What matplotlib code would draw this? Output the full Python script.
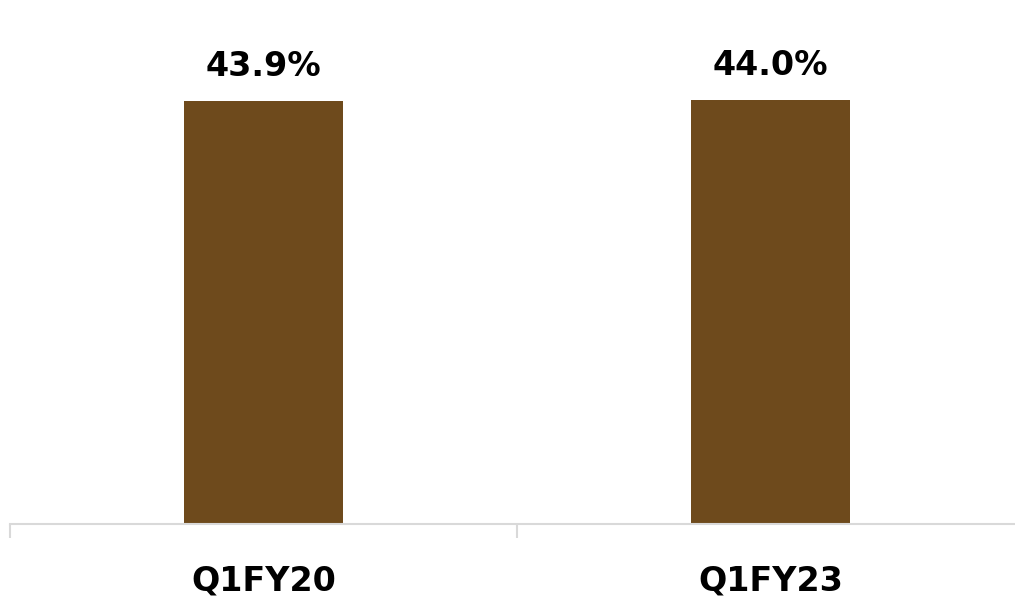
import matplotlib.pyplot as plt
import numpy as np

# Margen por trimestre
periodos = ['Q1FY20', 'Q1FY23']
margen = [43.9, 44.0]
etiquetas = ['43.9%', '44.0%']

color_barra = '#6E4A1C'
color_eje = '#D9D9D9'

fig = plt.figure(figsize=(10.15, 5.97), dpi=100)
ax = fig.add_axes([10 / 1015, 73 / 597, 1014 / 1015, 524 / 597])

x = np.arange(len(periodos))
barras = ax.bar(x, margen, width=0.314, color=color_barra, zorder=2)

ax.set_xlim(-0.5, len(periodos) - 0.5)
ax.set_ylim(0, 43.9 * 524 / 423)

# Valores encima de cada barra
for barra, txt in zip(barras, etiquetas):
    ax.annotate(txt, (barra.get_x() + barra.get_width() / 2, barra.get_height()),
                xytext=(0, 18), textcoords='offset points', ha='center', va='baseline',
                fontsize=24, fontweight='bold', color='black')

# Eje x: separadores entre categorías y etiquetas centradas
ax.set_xticks(np.arange(-0.5, len(periodos)), minor=False)
ax.set_xticklabels([])
ax.set_xticks(x, minor=True)
ax.set_xticklabels(periodos, minor=True, fontsize=24, fontweight='bold')
ax.tick_params(axis='x', which='major', length=10, width=1.5, color=color_eje)
ax.tick_params(axis='x', which='minor', length=0, pad=29)
ax.set_yticks([])

for lado in ['top', 'right', 'left']:
    ax.spines[lado].set_visible(False)
ax.spines['bottom'].set_color(color_eje)
ax.spines['bottom'].set_linewidth(1.5)

fig.savefig('out.png', dpi=100)
